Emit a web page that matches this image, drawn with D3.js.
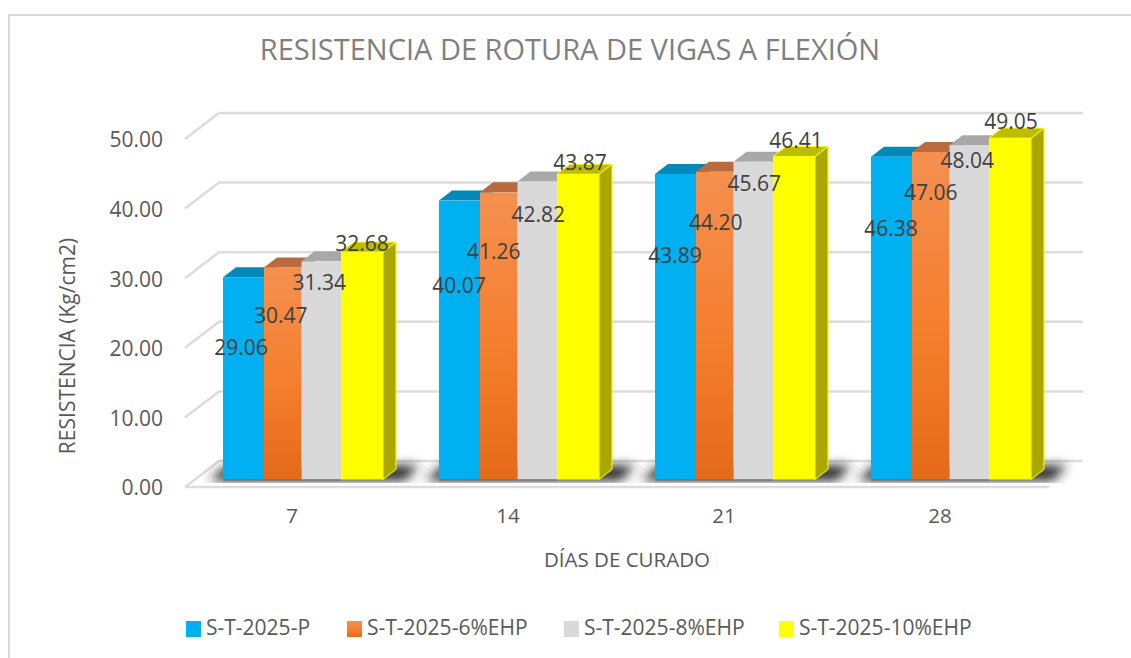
<!DOCTYPE html>
<html><head><meta charset="utf-8">
<script src="https://cdn.jsdelivr.net/npm/d3@7"></script>
<style>html,body{margin:0;padding:0;background:#fff}svg{display:block}text{font-family:"Open Sans",sans-serif}</style>
</head><body><div id="chart"></div>
<script>
const title = "RESISTENCIA DE ROTURA DE VIGAS A FLEXIÓN";
const xTitle = "DÍAS DE CURADO";
const yTitle = "RESISTENCIA (Kg/cm2)";
const categories = ["7","14","21","28"];
const seriesNames = ["S-T-2025-P","S-T-2025-6%EHP","S-T-2025-8%EHP","S-T-2025-10%EHP"];
const valuesP   = [29.06,40.07,43.89,46.38];
const values6   = [30.47,41.26,44.20,47.06];
const values8   = [31.34,42.82,45.67,48.04];
const values10  = [32.68,43.87,46.41,49.05];
const yTicks = [0,10,20,30,40,50];

const allValues = [valuesP,values6,values8,values10];
// hand-placed label offsets from each bar's top centre (px), as in the reference
const labelDx = [[-2.5,-2,-2,0],[-0.5,-5,1,2],[-0.5,1,1,2],[-0.5,0,-2,1]];
const labelDy = [[70,48,21,-8.5],[85,59,33,-12],[81.5,51,22,-16],[72,40.5,15.5,-16.5]];
const faces = [
 {front:"#00b0f0",top:"#0089ba",side:"#007fae"},
 {front:"url(#orangeGrad)",top:"#b96b40",side:"#b0581c"},
 {front:"#d9d9d9",top:"#a8a8a8",side:"#a0a0a0"},
 {front:"#ffff00",top:"#bdbd00",side:"#a8a800"}];

const W=1131,H=658;
const svg=d3.select("#chart").append("svg").attr("width",W).attr("height",H);
const defs=svg.append("defs");
const g=defs.append("linearGradient").attr("id","orangeGrad").attr("x1",0).attr("y1",0).attr("x2",0).attr("y2",1);
g.append("stop").attr("offset","0%").attr("stop-color","#f4904f");
g.append("stop").attr("offset","55%").attr("stop-color","#f57e2e");
g.append("stop").attr("offset","100%").attr("stop-color","#e36a18");
defs.append("filter").attr("id","blur").attr("x","-20%").attr("y","-100%").attr("width","140%").attr("height","300%")
  .append("feGaussianBlur").attr("stdDeviation",5.5);
defs.append("clipPath").attr("id","floorClip").append("rect").attr("x",185).attr("y",450).attr("width",946).attr("height",33);

// chart frame: left and top edges are visible, right and bottom run off the picture
svg.append("rect").attr("x",9).attr("y",15).attr("width",1200).attr("height",700)
  .attr("fill","#fff").attr("stroke","#d9d9d9").attr("stroke-width",2);

const depth={dx:34,dy:-26};
const barDepth={dx:13,dy:-10};
const y=d3.scaleLinear().domain([0,50]).range([487,139]);
const xBand=d3.scaleBand().domain(categories).range([185,1049]);
// the four bars of a group are slightly uneven in the reference
const xBar=d3.scaleOrdinal().domain(d3.range(5)).range([0,41,78.5,118,160]);
const barBase=479.5;
const barX=(c,s)=>xBand(c)+xBand.bandwidth()/2-70+xBar(s);
const barW=s=>xBar(s+1)-xBar(s);
const barY=v=>barBase-(y(0)-y(v));

// walls & grid
const grid=svg.append("g").attr("fill","none").attr("stroke","#dcdcdc").attr("stroke-width",2.5);
yTicks.forEach(t=>{
  const p=d3.path();
  p.moveTo(xBand.range()[0],y(t));
  p.lineTo(xBand.range()[0]+depth.dx,y(t)+depth.dy);
  p.lineTo(xBand.range()[1]+depth.dx,y(t)+depth.dy);
  grid.append("path").attr("d",p.toString());
});
// front floor edge
svg.append("line").attr("x1",xBand.range()[0]).attr("x2",xBand.range()[1]).attr("y1",y(0)).attr("y2",y(0))
  .attr("stroke","#dcdcdc").attr("stroke-width",2.5);

// floor shadows
const shadows=svg.append("g").attr("clip-path","url(#floorClip)");
categories.forEach(c=>{
  const x0=barX(c,0), x1=x0+160;
  const p=d3.path();
  p.moveTo(x0-14,barBase+1);p.lineTo(x0+4,barBase-14);p.lineTo(x1+36,barBase-14);p.lineTo(x1+22,barBase+1);p.closePath();
  shadows.append("path").attr("d",p.toString()).attr("fill","#262626").attr("filter","url(#blur)");
});

// bars
categories.forEach((c,ci)=>{
  allValues.forEach((vals,si)=>{
    const x=barX(c,si), w=barW(si), t=barY(vals[ci]), f=faces[si];
    const b=svg.append("g");
    b.append("path").attr("d",`M${x+w},${t}L${x+w+barDepth.dx},${t+barDepth.dy}L${x+w+barDepth.dx},${barBase+barDepth.dy}L${x+w},${barBase}Z`)
      .attr("fill",f.side).attr("stroke",si===3?"#ffff00":"none").attr("stroke-width",1);
    b.append("path").attr("d",`M${x},${t}L${x+barDepth.dx},${t+barDepth.dy}L${x+w+barDepth.dx},${t+barDepth.dy}L${x+w},${t}Z`)
      .attr("fill",f.top).attr("stroke",si===3?"#ffff00":"none").attr("stroke-width",1);
    b.append("rect").attr("x",x).attr("y",t).attr("width",w).attr("height",barBase-t).attr("fill",f.front);
  });
  // dark base line under the bars
  svg.append("line").attr("x1",barX(c,0)).attr("x2",barX(c,3)).attr("y1",barBase+0.5).attr("y2",barBase+0.5)
    .attr("stroke","#666").attr("stroke-width",1);
});

// value labels
categories.forEach((c,ci)=>{
  allValues.forEach((vals,si)=>{
    svg.append("text").attr("x",barX(c,si)+barW(si)/2+labelDx[ci][si])
      .attr("y",barY(vals[ci])+labelDy[ci][si]).attr("text-anchor","middle").attr("dy","0.35em")
      .attr("font-size",21).attr("fill","#404040").text(vals[ci].toFixed(2));
  });
});

// axis tick labels via d3 axes
const yAxis=svg.append("g").attr("transform","translate(163,0.5)")
  .call(d3.axisLeft(y).tickValues(yTicks).tickFormat(d3.format(".2f")).tickSize(0));
yAxis.select(".domain").remove();
yAxis.selectAll("text").attr("font-size",21).attr("fill","#595959").attr("font-family",'"Open Sans",sans-serif').attr("x",0).attr("dy","0.35em");

const xAxis=svg.append("g").attr("transform","translate(-1,516)")
  .call(d3.axisBottom(xBand).tickSize(0));
xAxis.select(".domain").remove();
xAxis.selectAll("text").attr("font-size",20.5).attr("fill","#595959").attr("font-family",'"Open Sans",sans-serif').attr("y",0).attr("dy","0.35em");

svg.append("text").attr("x",570).attr("y",50).attr("text-anchor","middle").attr("dy","0.35em")
  .attr("font-size",29).attr("fill","#7f7f7f").text(title);
svg.append("text").attr("x",627).attr("y",560).attr("text-anchor","middle").attr("dy","0.35em")
  .attr("font-size",20.5).attr("fill","#595959").text(xTitle);
svg.append("text").attr("transform","translate(68,346) rotate(-90)").attr("text-anchor","middle").attr("dy","0.35em")
  .attr("font-size",21).attr("fill","#595959").text(yTitle);

// legend
const legendX=[186,347,564,779];
const swatch=["#00b0f0","url(#orangeGrad)","#d9d9d9","#ffff00"];
seriesNames.forEach((n,i)=>{
  svg.append("rect").attr("x",legendX[i]).attr("y",621).attr("width",15).attr("height",16).attr("fill",swatch[i]);
  svg.append("text").attr("x",legendX[i]+20).attr("y",628).attr("dy","0.35em").attr("font-size",21).attr("fill","#595959").text(n);
});
</script></body></html>
